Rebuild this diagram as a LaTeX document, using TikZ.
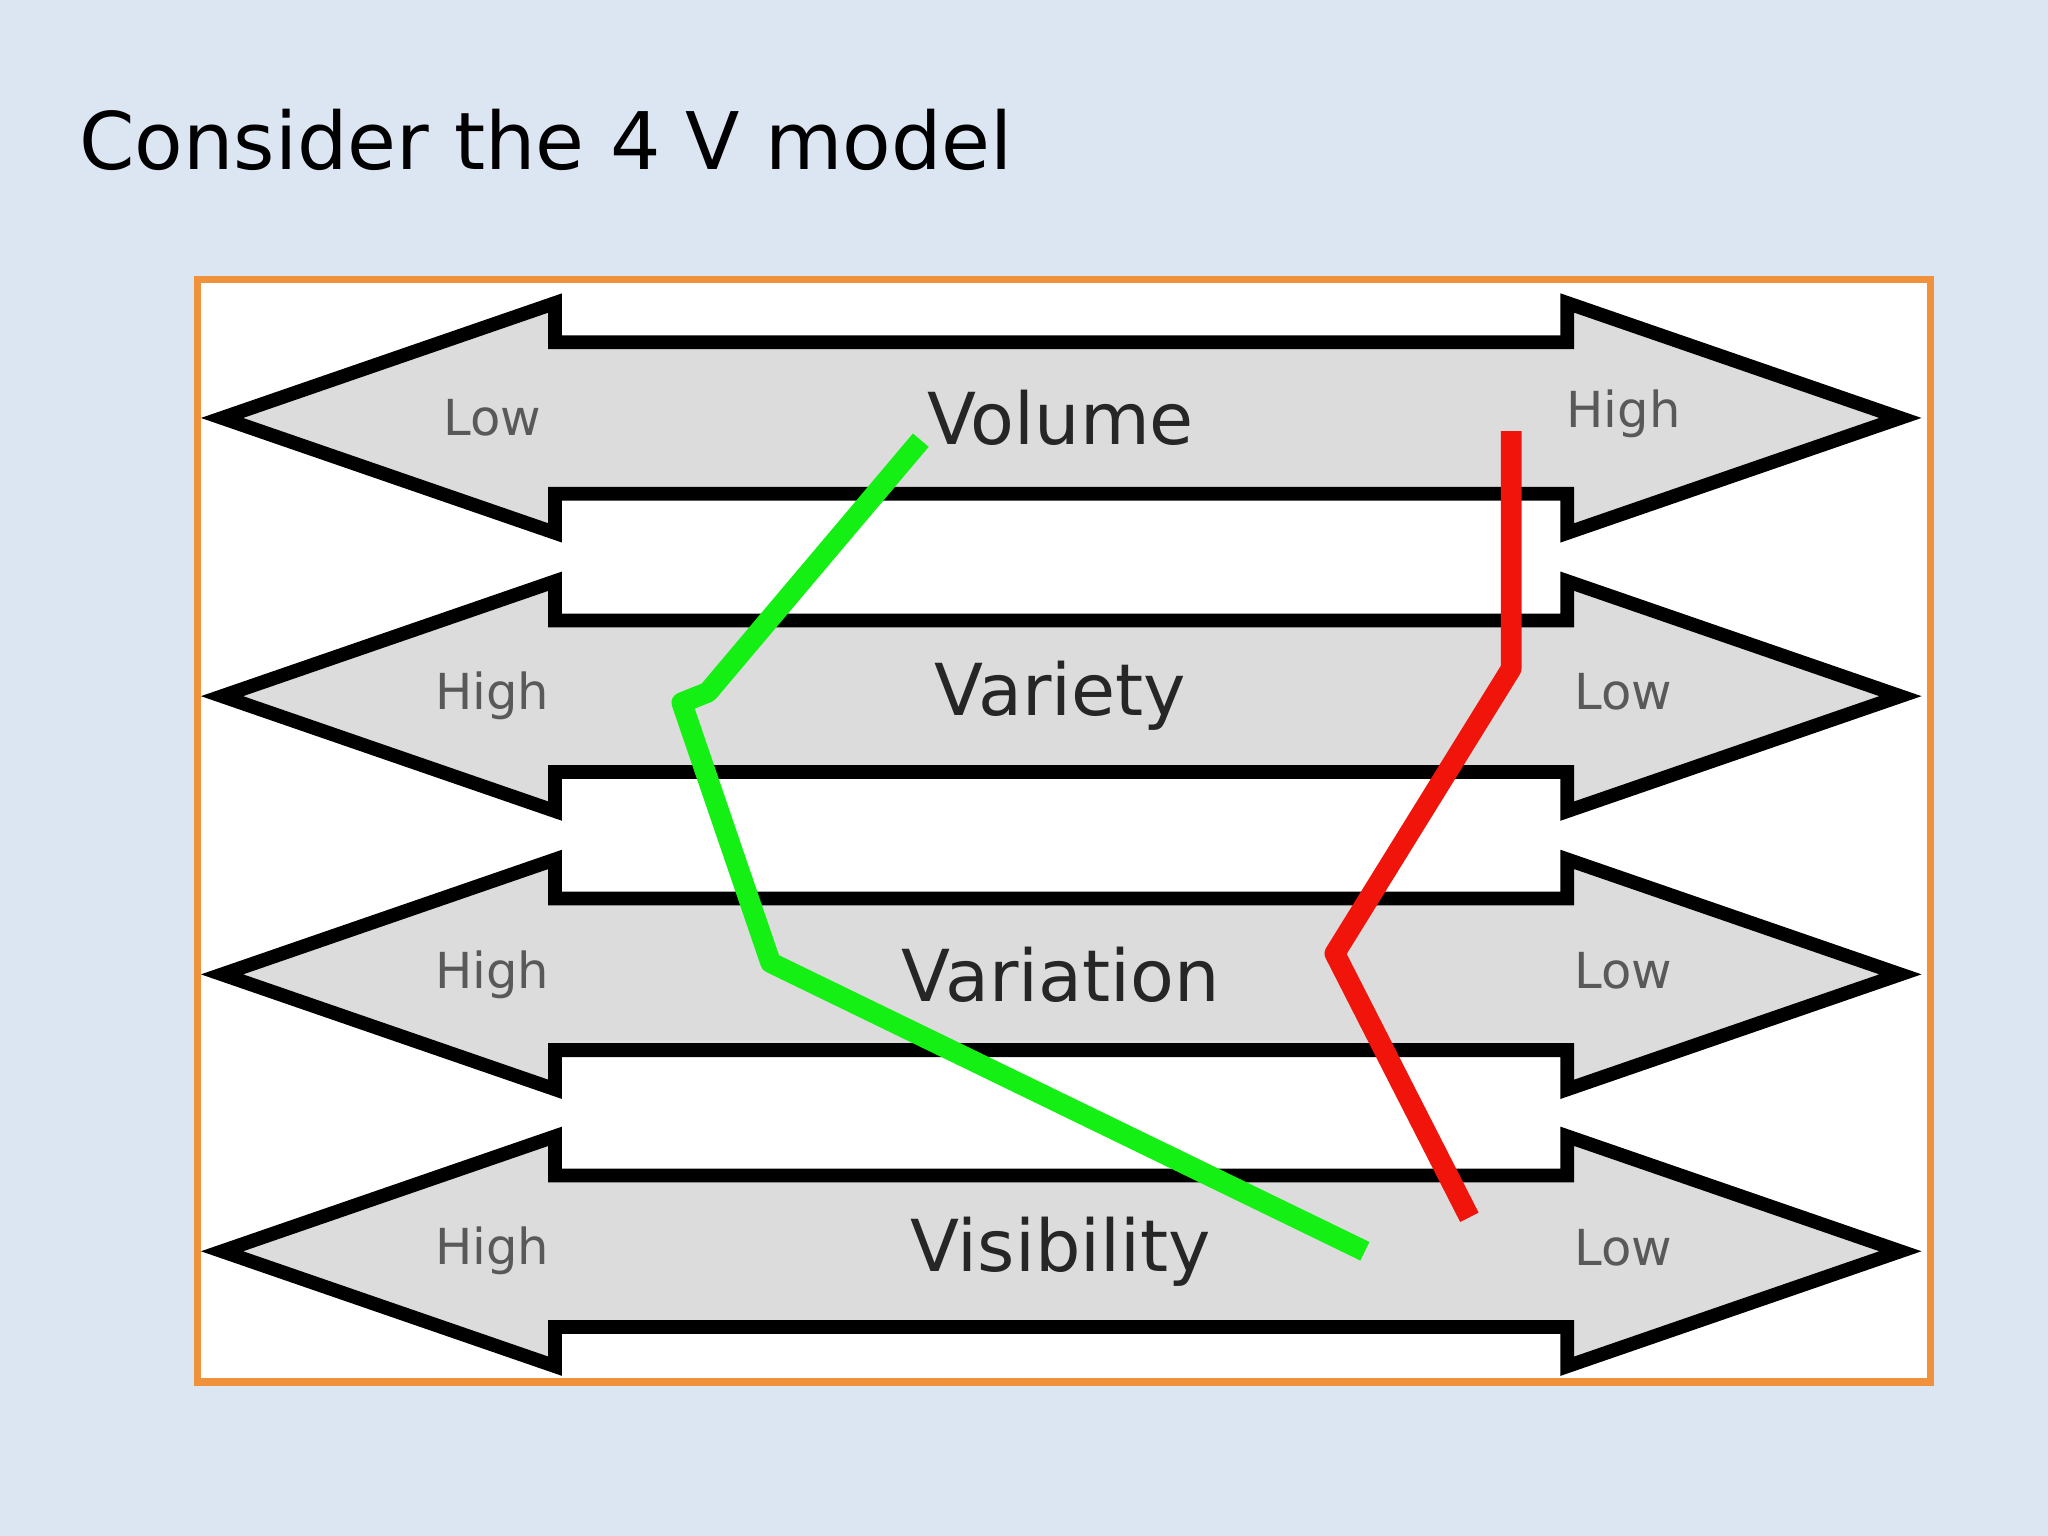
\documentclass[tikz,border=0pt]{standalone}
\usepackage{fontspec}
\setmainfont{DejaVu Sans}
\usetikzlibrary{positioning}
\definecolor{slidebg}{RGB}{220,230,243}
\definecolor{corange}{RGB}{240,146,60}
\definecolor{cgray}{RGB}{220,220,220}
\definecolor{cgreen}{RGB}{20,240,20}
\definecolor{cred}{RGB}{240,20,10}
\begin{document}
\begin{tikzpicture}[x=0.01cm, y=-0.01cm,
      band/.style={draw=black, fill=cgray, line width=3pt, line join=miter},
      vname/.style={font=\fontsize{15.6}{18}\selectfont, text=black!85},
      side/.style={font=\fontsize{10.8}{13}\selectfont, text=black!65},
      trace/.style={line width=4.5pt, line join=round}
    ]
    \fill[slidebg] (0,0) rectangle (1568,1176);
    \node[anchor=base west, inner sep=0pt, font=\fontsize{17.3}{20}\selectfont] (title) at (60,130) {Consider the 4 V model};
    \draw[corange, fill=white, line width=1.6pt] (151,214) rectangle (1478,1058);

    % the four bands
    \foreach \yc/\name/\lt/\rt in {320/Volume/Low/High, 533/Variety/High/Low,
                                   746/Variation/High/Low, 958/Visibility/High/Low} {
      \draw[band] (170,\yc) -- (425,\yc-88) -- (425,\yc-58) -- (1200,\yc-58)
        -- (1200,\yc-88) -- (1455,\yc) -- (1200,\yc+88) -- (1200,\yc+58)
        -- (425,\yc+58) -- (425,\yc+88) -- cycle;
      \node[vname] (n-\name) at (812,\yc) {\name};
      \node[side] (l-\name) at (377,\yc) {\lt};
      \node[side] (r-\name) at (1243,\yc-3) {\rt};
    }

    % green profile
    \coordinate (g1) at (705,337);
    \coordinate (g2) at (542,530);
    \coordinate (g3) at (522,538);
    \coordinate (g4) at (590,737);
    \coordinate (g5) at (1045,958);
    \draw[trace, cgreen] (g1) -- (g2) -- (g3) -- (g4) -- (g5);

    % red profile
    \coordinate (r1a) at (1157,330);
    \coordinate (r2a) at (1157,512);
    \coordinate (r3a) at (1022,730);
    \coordinate (r4a) at (1125,932);
    \draw[trace, cred] (r1a) -- (r2a) -- (r3a) -- (r4a);
  \end{tikzpicture}
\end{document}
